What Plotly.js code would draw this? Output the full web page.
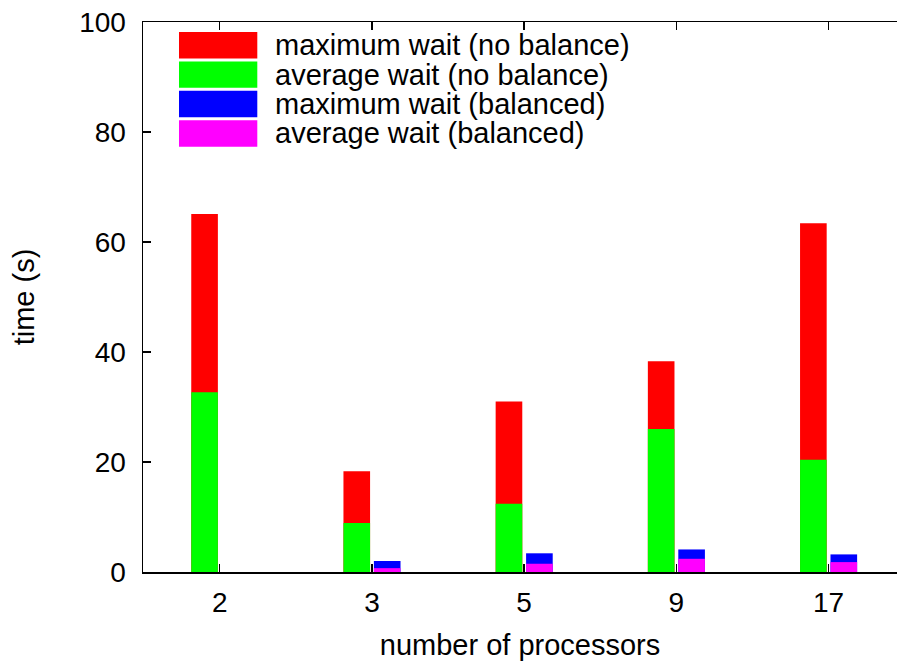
<!DOCTYPE html>
<html>
<head>
<meta charset="utf-8">
<script src="https://cdn.plot.ly/plotly-3.0.1.min.js"></script>
<style>html,body{margin:0;padding:0;background:#fff;}#chart{width:897px;height:662px;}</style>
</head>
<body>
<div id="chart"></div>
<script>
// ---- data ----
const processors = ['2', '3', '5', '9', '17'];
const maxWaitNoBalance = [65.1, 18.3, 31.0, 38.3, 63.4];
const avgWaitNoBalance = [32.7, 8.9, 12.4, 26.0, 20.4];
const maxWaitBalanced = [0, 2.0, 3.4, 4.1, 3.2];
const avgWaitBalanced = [0, 0.7, 1.5, 2.4, 1.8];
const seriesNames = ['maximum wait (no balance)', 'average wait (no balance)', 'maximum wait (balanced)', 'average wait (balanced)'];
const seriesColors = ['#ff0000', '#00ff00', '#0000ff', '#ff00ff'];
const yTickValues = [0, 20, 40, 60, 80, 100];

const FONT = 'Liberation Sans, Arial, sans-serif';
const BW = 0.175;
function bar(y, i, off) {
  return {type: 'bar', x: processors, y: y, name: seriesNames[i], width: BW, offset: off,
    marker: {color: seriesColors[i], line: {width: 0}}, showlegend: false, hoverinfo: 'skip'};
}
const traces = [
  bar(maxWaitNoBalance, 0, -0.187),
  bar(avgWaitNoBalance, 1, -0.187),
  bar(maxWaitBalanced, 2, 0.013),
  bar(avgWaitBalanced, 3, 0.013)
];

// legend built from shapes + annotations
const shapes = [], annotations = [];
const plotW = 754, plotH = 549.7;
for (let i = 0; i < seriesNames.length; i++) {
  const top = 32.3 + i * 29.4, bot = top + 26.4;
  shapes.push({type: 'rect', xref: 'paper', yref: 'paper',
    x0: (179 - 143) / plotW, x1: (257.3 - 143) / plotW,
    y0: (572 - bot) / plotH, y1: (572 - top) / plotH,
    fillcolor: seriesColors[i], line: {width: 0}});
  annotations.push({xref: 'paper', yref: 'paper', x: (273 - 143) / plotW, y: (572 - (top + bot) / 2) / plotH,
    xanchor: 'left', yanchor: 'middle', showarrow: false, text: seriesNames[i],
    font: {family: FONT, size: 29, color: '#000'}});
}

const layout = {
  width: 897, height: 662,
  margin: {l: 143, r: 0, t: 22, b: 90},
  paper_bgcolor: '#fff', plot_bgcolor: '#fff',
  barmode: 'overlay',
  font: {family: FONT, size: 28, color: '#000'},
  xaxis: {type: 'category', range: [-0.504, 4.45], showgrid: false, zeroline: false,
    showline: true, linecolor: '#000', linewidth: 1.5, mirror: 'ticks',
    ticks: 'inside', ticklen: 8, tickcolor: '#000', tickwidth: 1.5,
    tickfont: {family: FONT, size: 28}, ticklabelstandoff: 5,
    title: {text: 'number of processors', font: {family: FONT, size: 29}, standoff: 17}},
  yaxis: {range: [0, 100], tickvals: yTickValues, showgrid: false, zeroline: false,
    showline: true, linecolor: '#000', linewidth: 1.5,
    ticks: 'inside', ticklen: 8, tickcolor: '#000', tickwidth: 1.5,
    tickfont: {family: FONT, size: 28}, ticklabelstandoff: 10,
    title: {text: 'time (s)', font: {family: FONT, size: 29}, standoff: 36}},
  shapes: shapes, annotations: annotations
};
Plotly.newPlot('chart', traces, layout, {staticPlot: true, displayModeBar: false});
</script>
</body>
</html>
